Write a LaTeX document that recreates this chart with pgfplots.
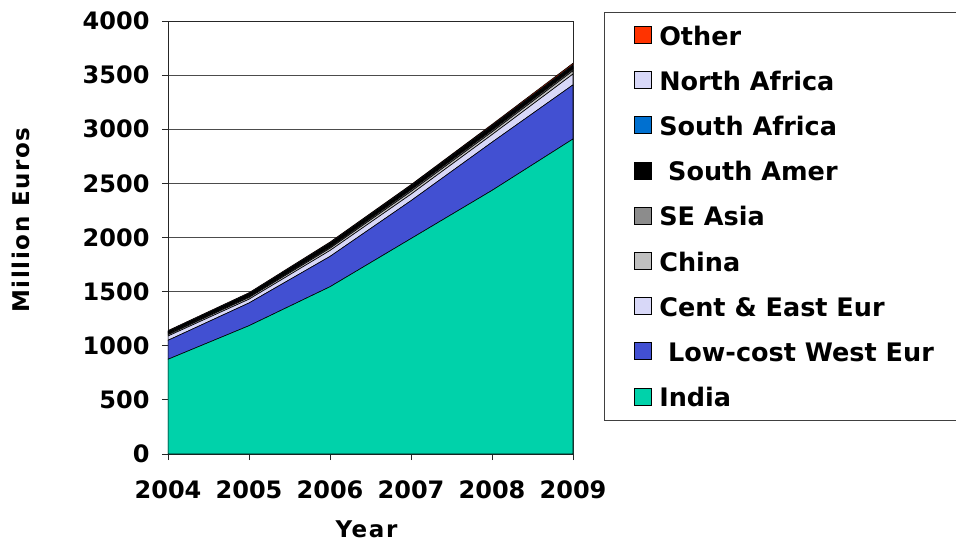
\documentclass[border=0pt]{standalone}
\usepackage{pgfplots}
\pgfplotsset{compat=1.18}
\usepackage{fontspec}
\setmainfont{DejaVu Sans}
\newfontfamily\labelfont[LetterSpace=7]{DejaVu Sans}
\definecolor{cIndia}{RGB}{0,210,170}
\definecolor{cLCWE}{RGB}{66,80,210}
\definecolor{cCEE}{RGB}{216,216,248}
\definecolor{cChina}{RGB}{192,192,192}
\definecolor{cSEA}{RGB}{140,140,140}
\definecolor{cSAm}{RGB}{0,0,0}
\definecolor{cSAf}{RGB}{0,112,208}
\definecolor{cNAf}{RGB}{216,216,248}
\definecolor{cOther}{RGB}{255,51,0}
\begin{document}
\begin{tikzpicture}
\useasboundingbox (-168pt,-88pt) rectangle (788pt,454pt);
\begin{axis}[
  at={(0pt,0pt)}, anchor=south west, scale only axis,
  width=405pt, height=433pt,
  xmin=2004, xmax=2009, ymin=0, ymax=4000,
  xtick={2004,2005,2006,2007,2008,2009},
  ytick={0,500,1000,1500,2000,2500,3000,3500,4000},
  stack plots=y,
  tick pos=left, tick align=outside, major tick length=6pt,
  ymajorgrids, grid style={black!70, line width=0.9pt},
  axis line style={black!85, line width=0.9pt},
  tick style={black!85, line width=0.9pt},
  tick label style={font=\fontsize{24}{28}\selectfont\bfseries},
  xticklabel style={yshift=-17pt},
  yticklabel style={xshift=-9pt},
  label style={font=\fontsize{23}{27}\selectfont\labelfont\bfseries},
  xlabel={Year}, ylabel={Million Euros},
  xlabel style={at={(axis description cs:0.49,-0.174)}, anchor=center},
  ylabel style={at={(axis description cs:-0.363,0.54)}, anchor=center},
  /pgf/number format/1000 sep={},
  /pgf/number format/assume math mode=true,
  reverse legend,
  legend cell align=left,
  legend style={at={(axis description cs:1.0765,1.0208)}, anchor=north west,
    draw=black!75, line width=1pt, inner xsep=30pt, inner ysep=13.5pt,
    font=\fontsize{25.5}{30}\selectfont\bfseries, row sep=26.1pt,
    nodes={inner sep=0pt, text height=18.2pt, text depth=0pt}},
  legend image code/.code={\draw[#1, line width=1pt] (0pt,-7.5pt) rectangle (17pt,9.5pt); \path (24pt,0pt);},
  every axis plot/.append style={draw=black, line width=0.6pt},
]
\addplot[fill=cIndia] coordinates {(2004,875) (2005,1185) (2006,1545) (2007,1990) (2008,2435) (2009,2910)} \closedcycle;
\addlegendentry{India}
\addplot[fill=cLCWE] coordinates {(2004,175) (2005,210) (2006,280) (2007,350) (2008,445) (2009,500)} \closedcycle;
\addlegendentry{\ Low-cost West Eur}
\addplot[fill=cCEE] coordinates {(2004,40) (2005,35) (2006,55) (2007,60) (2008,70) (2009,100)} \closedcycle;
\addlegendentry{Cent \& East Eur}
\addplot[fill=cChina] coordinates {(2004,12) (2005,15) (2006,20) (2007,25) (2008,25) (2009,30)} \closedcycle;
\addlegendentry{China}
\addplot[fill=cSEA] coordinates {(2004,8) (2005,10) (2006,12) (2007,15) (2008,15) (2009,15)} \closedcycle;
\addlegendentry{SE Asia}
\addplot[fill=cSAm] coordinates {(2004,15) (2005,20) (2006,25) (2007,25) (2008,25) (2009,20)} \closedcycle;
\addlegendentry{\ South Amer}
\addplot[fill=cSAf] coordinates {(2004,5) (2005,5) (2006,5) (2007,5) (2008,8) (2009,10)} \closedcycle;
\addlegendentry{South Africa}
\addplot[fill=cNAf] coordinates {(2004,5) (2005,5) (2006,8) (2007,8) (2008,10) (2009,10)} \closedcycle;
\addlegendentry{North Africa}
\addplot[fill=cOther] coordinates {(2004,5) (2005,5) (2006,8) (2007,10) (2008,12) (2009,15)} \closedcycle;
\addlegendentry{Other}
\end{axis}
\end{tikzpicture}
\end{document}
